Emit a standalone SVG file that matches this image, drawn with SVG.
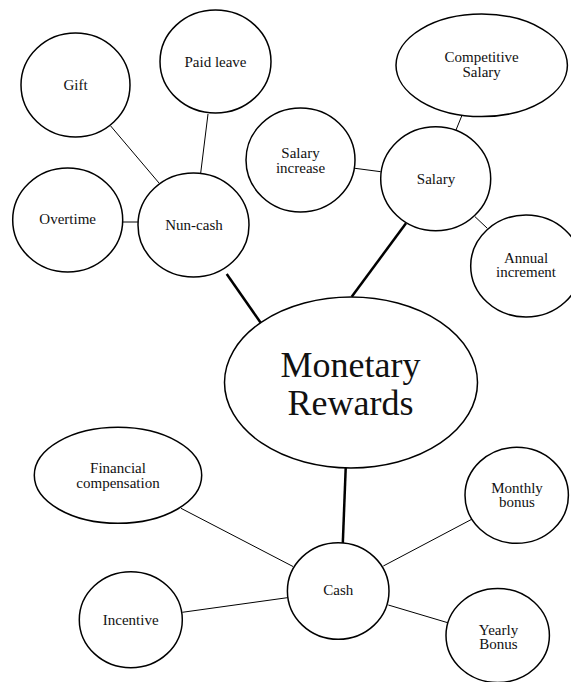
<svg xmlns="http://www.w3.org/2000/svg" width="571" height="682" viewBox="0 0 571 682">
<style>
.n{fill:#fff;stroke:#000;stroke-width:1.5}
.t{font-family:"Liberation Serif","Times New Roman",serif;font-size:15px;fill:#111;text-anchor:middle}
.big{font-size:36px}
.thin{stroke:#000;stroke-width:1;fill:none}
.thick{stroke:#000;stroke-width:2.5;fill:none}
</style>
<rect width="571" height="682" fill="#fff"/>
<g id="connectors">
<line class="thin" x1="110.7" y1="126" x2="159" y2="183"/>
<line class="thin" x1="208" y1="114" x2="200.7" y2="173"/>
<line class="thin" x1="122.7" y1="222" x2="138" y2="222"/>
<line class="thick" x1="226.7" y1="274" x2="260.7" y2="322.7"/>
<line class="thin" x1="461.7" y1="116" x2="456" y2="130"/>
<line class="thin" x1="355" y1="168.3" x2="380.7" y2="171.7"/>
<line class="thin" x1="475" y1="216.7" x2="487.3" y2="228.3"/>
<line class="thick" x1="406" y1="223.3" x2="351.7" y2="296.7"/>
<line class="thick" x1="345.7" y1="468" x2="342.7" y2="546"/>
<line class="thin" x1="181" y1="508.3" x2="293" y2="566.5"/>
<line class="thin" x1="182.3" y1="612.3" x2="288" y2="597.6"/>
<line class="thin" x1="383.3" y1="566" x2="471.7" y2="519.3"/>
<line class="thin" x1="388.3" y1="605" x2="447.7" y2="622.7"/>
</g>
<g id="gift"><ellipse class="n" cx="75.5" cy="85" rx="54.5" ry="52"/><text class="t" x="75.5" y="90">Gift</text></g>
<g id="paid-leave"><ellipse class="n" cx="215.5" cy="61.5" rx="55.5" ry="51.5"/><text class="t" x="215.5" y="66.7">Paid leave</text></g>
<g id="overtime"><ellipse class="n" cx="67.7" cy="220" rx="55" ry="52"/><text class="t" x="67.7" y="224.3">Overtime</text></g>
<g id="nun-cash"><ellipse class="n" cx="193.5" cy="225" rx="55.5" ry="52"/><text class="t" x="194" y="230">Nun-cash</text></g>
<g id="competitive-salary"><ellipse class="n" cx="481.7" cy="65.3" rx="85.7" ry="51.3"/><text class="t" x="481.7" y="62.3">Competitive</text><text class="t" x="481.7" y="76.7">Salary</text></g>
<g id="salary-increase"><ellipse class="n" cx="300.5" cy="160" rx="54.5" ry="52"/><text class="t" x="300.5" y="157.7">Salary</text><text class="t" x="300.5" y="172.7">increase</text></g>
<g id="salary"><ellipse class="n" cx="435.7" cy="178.7" rx="55" ry="52"/><text class="t" x="436" y="184.3">Salary</text></g>
<g id="annual-increment"><ellipse class="n" cx="526" cy="266" rx="55.3" ry="51"/><text class="t" x="526" y="263.3">Annual</text><text class="t" x="526" y="277.3">increment</text></g>
<g id="monetary-rewards"><ellipse class="n" cx="351" cy="382.5" rx="126.5" ry="85.5"/><text class="t big" x="350.5" y="376.7">Monetary</text><text class="t big" x="350.5" y="415">Rewards</text></g>
<g id="financial-compensation"><ellipse class="n" cx="118" cy="475.3" rx="83.7" ry="48"/><text class="t" x="118" y="473.3">Financial</text><text class="t" x="118" y="487.5">compensation</text></g>
<g id="cash"><ellipse class="n" cx="338.2" cy="591" rx="50.8" ry="48.3"/><text class="t" x="338.3" y="595">Cash</text></g>
<g id="incentive"><ellipse class="n" cx="130.8" cy="619.7" rx="51.5" ry="48"/><text class="t" x="130.7" y="625">Incentive</text></g>
<g id="monthly-bonus"><ellipse class="n" cx="516.7" cy="495.3" rx="51.7" ry="48"/><text class="t" x="517" y="492.7">Monthly</text><text class="t" x="517" y="507.3">bonus</text></g>
<g id="yearly-bonus"><ellipse class="n" cx="497.7" cy="635.5" rx="51.7" ry="47"/><text class="t" x="498.5" y="635">Yearly</text><text class="t" x="498.5" y="649.3">Bonus</text></g>
</svg>
